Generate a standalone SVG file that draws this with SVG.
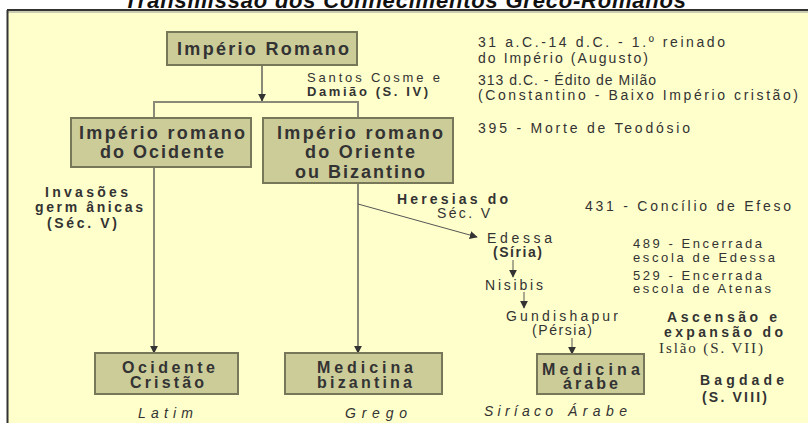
<svg xmlns="http://www.w3.org/2000/svg" width="808" height="423" viewBox="0 0 808 423">
<defs>
<style>
.t{font-family:"Liberation Sans",Arial,sans-serif;font-size:14px;fill:#333;}
.k{font-size:13px;}
.b{font-weight:bold;}
.i{font-style:italic;}
.s{font-family:"Liberation Serif","Times New Roman",serif;font-size:15px;fill:#333;}
.n{font-family:"Liberation Sans",Arial,sans-serif;font-size:18px;font-weight:bold;fill:#333;}
.m{font-family:"Liberation Sans",Arial,sans-serif;font-size:16px;font-weight:bold;fill:#333;}
.box{fill:#CCCC99;stroke:#77775a;stroke-width:2;}
.c{stroke:#8a8a78;stroke-width:2;fill:none;}
.d{stroke:#555;stroke-width:1;fill:none;}
</style>
<marker id="ah2" viewBox="0 0 10 10" refX="9" refY="5" markerWidth="8" markerHeight="8" orient="auto" markerUnits="userSpaceOnUse"><path d="M0,0 L10,5 L0,10 z" fill="#333"/></marker>
</defs>
<rect width="808" height="423" fill="#fff"/>
<rect x="7" y="10" width="805" height="420" fill="#FFFFCC"/>
<text class="t b i" x="124" y="8" style="font-size:22px;fill:#111" textLength="562">Transmissão dos Conhecimentos Greco-Romanos</text>
<line x1="7" y1="10" x2="808" y2="10" stroke="#333" stroke-width="2"/>
<line x1="7" y1="12" x2="808" y2="12" stroke="#999" stroke-width="1"/>
<line x1="7.5" y1="10" x2="7.5" y2="423" stroke="#333" stroke-width="2"/>

<g id="connectors">
<line class="c" x1="262" y1="65" x2="262" y2="101" marker-end="url(#ah2)"/>
<polyline class="c" points="154,118 154,102 358,102 358,118" marker-start="url(#ah2)"/>
<line class="c" x1="154" y1="167" x2="154" y2="353" marker-end="url(#ah2)"/>
<line class="c" x1="358" y1="183" x2="358" y2="353" marker-end="url(#ah2)"/>
<line class="d" x1="358" y1="204" x2="477" y2="237" marker-end="url(#ah2)"/>
<line class="d" x1="513" y1="260" x2="513" y2="277" marker-end="url(#ah2)"/>
<line class="d" x1="524" y1="292" x2="524" y2="308" marker-end="url(#ah2)"/>
<line class="d" x1="572" y1="338" x2="572" y2="354" marker-end="url(#ah2)"/>
</g>

<g id="imperio-romano">
<rect class="box" x="167" y="32" width="190" height="33"/>
<text class="n" x="177" y="55" textLength="172">Império Romano</text>
</g>
<g id="ocidente">
<rect class="box" x="71" y="118" width="180" height="49"/>
<text class="n" x="79" y="139" textLength="166">Império romano</text>
<text class="n" x="100" y="158" textLength="124">do Ocidente</text>
</g>
<g id="oriente">
<rect class="box" x="263" y="118" width="190" height="65"/>
<text class="n" x="277" y="139" textLength="166">Império romano</text>
<text class="n" x="305" y="158" textLength="110">do Oriente</text>
<text class="n" x="295" y="178" textLength="130">ou Bizantino</text>
</g>
<g id="ocidente-cristao">
<rect class="box" x="95" y="353" width="143" height="41"/>
<text class="m" x="122" y="373" textLength="93">Ocidente</text>
<text class="m" x="130" y="388" textLength="74">Cristão</text>
</g>
<g id="medicina-bizantina">
<rect class="box" x="285" y="353" width="157" height="41"/>
<text class="m" x="317" y="373" textLength="96">Medicina</text>
<text class="m" x="317" y="388" textLength="95">bizantina</text>
</g>
<g id="medicina-arabe">
<rect class="box" x="537" y="354" width="107" height="40"/>
<text class="m" x="542" y="375" textLength="98">Medicina</text>
<text class="m" x="563" y="389" textLength="55">árabe</text>
</g>

<g id="labels">
<text class="t k" x="307" y="82" textLength="133">Santos Cosme e</text>
<text class="t k b" x="307" y="96" textLength="121">Damião (S. IV)</text>
<text class="t" x="478" y="47" textLength="247">31 a.C.-14 d.C. - 1.º reinado</text>
<text class="t" x="478" y="63" textLength="170">do Império (Augusto)</text>
<text class="t" x="478" y="85" textLength="178">313 d.C. - Édito de Milão</text>
<text class="t" x="478" y="100" textLength="320">(Constantino - Baixo Império cristão)</text>
<text class="t" x="478" y="133" textLength="212">395 - Morte de Teodósio</text>
<text class="t b" x="45" y="197" textLength="83">Invasões</text>
<text class="t b" x="35" y="212" textLength="108">germ ânicas</text>
<text class="t b" x="47" y="228" textLength="70">(Séc. V)</text>
<text class="t b" x="397" y="204" textLength="111">Heresias do</text>
<text class="t" x="437" y="218" textLength="53">Séc. V</text>
<text class="t" x="585" y="211" textLength="206">431 - Concílio de Efeso</text>
<text class="t" x="487" y="243" textLength="65">Edessa</text>
<text class="t b" x="493" y="257" textLength="49">(Síria)</text>
<text class="t" x="485" y="290" textLength="58">Nisibis</text>
<text class="t" x="506" y="321" textLength="112">Gundishapur</text>
<text class="t" x="532" y="335" textLength="60">(Pérsia)</text>
<text class="t k" x="633" y="248" textLength="129">489 - Encerrada</text>
<text class="t k" x="633" y="262" textLength="142">escola de Edessa</text>
<text class="t k" x="633" y="280" textLength="129">529 - Encerrada</text>
<text class="t k" x="633" y="293" textLength="138">escola de Atenas</text>
<text class="t b" x="667" y="322" textLength="110">Ascensão e</text>
<text class="t b" x="664" y="337" textLength="119">expansão do</text>
<text class="s" x="659" y="353" textLength="104">Islão (S. VII)</text>
<text class="t b" x="700" y="385" textLength="84">Bagdade</text>
<text class="t b" x="702" y="402" textLength="65">(S. VIII)</text>
<text class="t i" x="138" y="418" textLength="55">Latim</text>
<text class="t i" x="345" y="418" textLength="62">Grego</text>
<text class="t i" x="484" y="416" textLength="69">Siríaco</text>
<text class="t i" x="568" y="416" textLength="59">Árabe</text>
</g>
</svg>
